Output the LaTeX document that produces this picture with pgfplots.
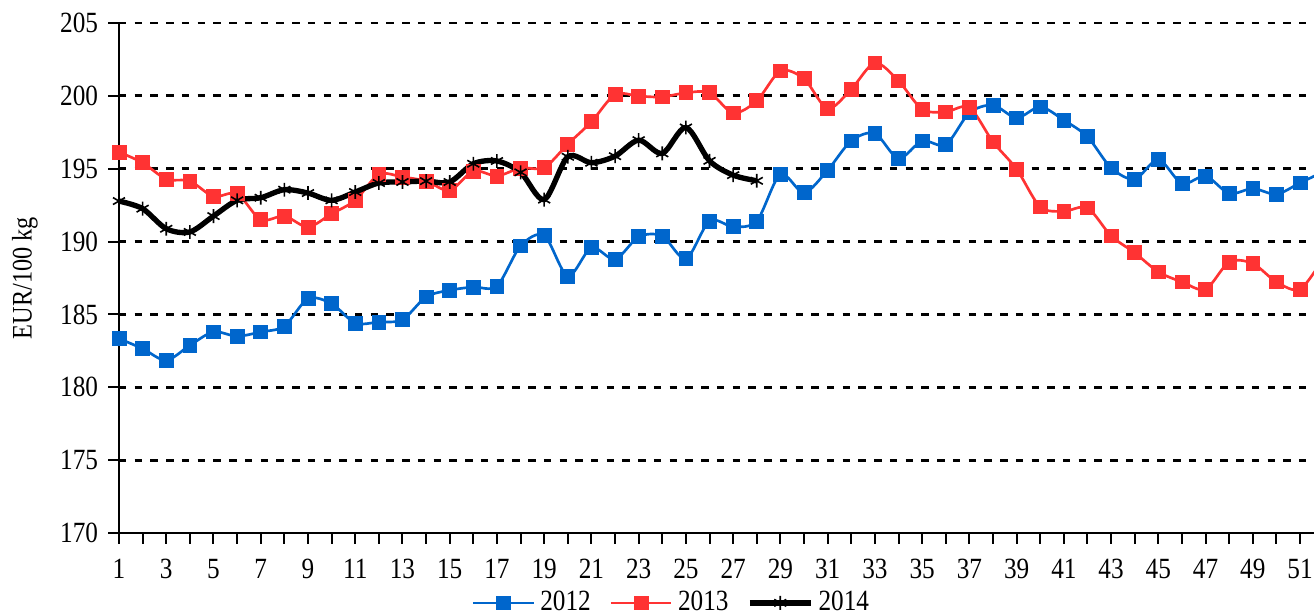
\documentclass[border=0pt]{standalone}
\usepackage{fontspec}
\setmainfont{Liberation Serif}[FakeStretch=0.86]
\usepackage{pgfplots}
\pgfplotsset{compat=1.18}
\definecolor{cblue}{HTML}{0066CC}
\definecolor{cred}{HTML}{FF3333}
\begin{document}
\fontsize{11}{13}\selectfont
\begin{tikzpicture}
\begin{axis}[
  name=ax,
  scale only axis,
  width=448.125pt, height=191.25pt,
  xmin=1, xmax=51.59, ymin=170, ymax=205,
  axis x line*=bottom, axis y line*=left,
  axis line style={line width=0.75pt, -},
  xtick={1,3,...,51}, minor xtick={2,4,...,52},
  ytick={170,175,...,205},
  tick align=outside,
  major tick length=4pt, minor tick length=4pt,
  tick style={line width=0.75pt, black},
  ymajorgrids,
  major grid style={dash pattern=on 2.8pt off 3.1pt, line width=1.05pt, black},
  /pgf/number format/assume math mode=true,
  tick label style={font=\fontsize{11}{13}\selectfont},
  xticklabel style={yshift=-2pt},
  ylabel={EUR/100 kg},
  ylabel style={at={(axis description cs:-0.0787,0.5)}, anchor=center, font=\fontsize{10.6}{13}\selectfont},
  legend columns=-1,
  legend style={draw=none, fill=none, at={(0.4636,-0.137)}, anchor=center, inner ysep=1pt, font=\fontsize{11}{13}\selectfont,
    /tikz/every even column/.append style={column sep=5pt}},
  legend image code/.code={\draw[mark repeat=2,mark phase=2] plot coordinates {(0cm,0cm) (0.4cm,0cm) (0.8cm,0cm)};},
]
\addplot[color=cblue, line width=1pt, smooth, tension=0.5, mark=square*, mark size=2.6pt, mark options={solid, fill=cblue, draw=cblue, line width=0.3pt}] coordinates {
(1,183.34) (2,182.65) (3,181.85) (4,182.88) (5,183.8) (6,183.5) (7,183.8) (8,184.19) (9,186.08) (10,185.74)
(11,184.41) (12,184.48) (13,184.64) (14,186.2) (15,186.66) (16,186.88) (17,186.95) (18,189.7) (19,190.42) (20,187.63)
(21,189.58) (22,188.78) (23,190.33) (24,190.38) (25,188.82) (26,191.41) (27,191.02) (28,191.41) (29,194.61) (30,193.35)
(31,194.9) (32,196.91) (33,197.42) (34,195.7) (35,196.91) (36,196.65) (37,198.83) (38,199.36) (39,198.49) (40,199.24)
(41,198.33) (42,197.19) (43,195.06) (44,194.28) (45,195.63) (46,193.98) (47,194.49) (48,193.3) (49,193.64) (50,193.25)
(51,194.03) (52,194.8)
};
\addlegendentry{2012}
\addplot[color=cred, line width=1pt, smooth, tension=0.5, mark=square*, mark size=2.6pt, mark options={solid, fill=cred, draw=cred, line width=0.3pt}] coordinates {
(1,196.14) (2,195.41) (3,194.29) (4,194.15) (5,193.1) (6,193.28) (7,191.5) (8,191.75) (9,191.0) (10,191.91)
(11,192.83) (12,194.61) (13,194.43) (14,194.15) (15,193.51) (16,194.84) (17,194.5) (18,195.05) (19,195.08) (20,196.69)
(21,198.22) (22,200.09) (23,199.98) (24,199.93) (25,200.21) (26,200.21) (27,198.83) (28,199.66) (29,201.71) (30,201.17)
(31,199.13) (32,200.46) (33,202.26) (34,201.03) (35,199.08) (36,198.9) (37,199.2) (38,196.84) (39,194.97) (40,192.38)
(41,192.08) (42,192.31) (43,190.39) (44,189.23) (45,187.92) (46,187.23) (47,186.73) (48,188.6) (49,188.49) (50,187.23)
(51,186.73) (52,188.9)
};
\addlegendentry{2013}
\addplot[color=black, line width=2pt, smooth, tension=0.5, mark=asterisk, mark size=2.6pt, mark options={solid, line width=0.6pt}] coordinates {
(1,192.78) (2,192.26) (3,190.88) (4,190.66) (5,191.75) (6,192.83) (7,193.01) (8,193.56) (9,193.33) (10,192.83)
(11,193.4) (12,194.02) (13,194.09) (14,194.15) (15,194.09) (16,195.34) (17,195.53) (18,194.75) (19,192.88) (20,195.82)
(21,195.41) (22,195.86) (23,196.96) (24,196.05) (25,197.83) (26,195.54) (27,194.56) (28,194.17)
};
\addlegendentry{2014}
\end{axis}
\pgfresetboundingbox
\path[use as bounding box] ([shift={(-44.625pt,-30.75pt)}]ax.south west) rectangle ([shift={(0pt,8.625pt)}]ax.north east);
\end{tikzpicture}
\end{document}
